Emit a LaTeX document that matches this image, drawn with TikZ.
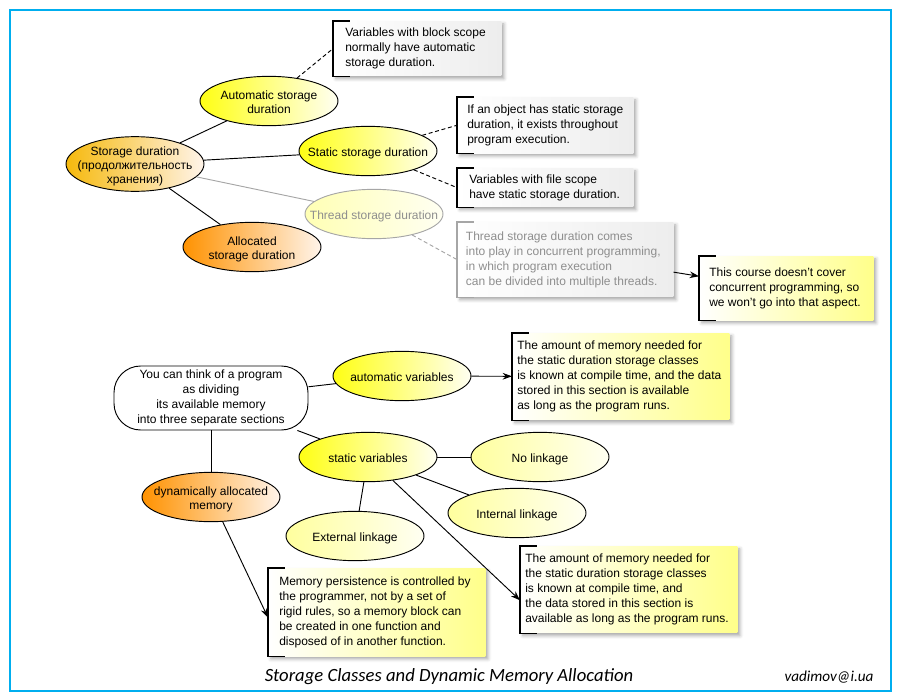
\documentclass[tikz,border=0pt]{standalone}
\usepackage{fontspec}
\setmainfont{Liberation Sans}
\newfontfamily\titlefont{Carlito}
\usetikzlibrary{shapes,arrows.meta,positioning,shadows.blur}

\definecolor{framecol}{HTML}{00AEEF}
\definecolor{ovalyellow}{HTML}{FFFF14}
\definecolor{ovalpale}{HTML}{FFFF9E}
\definecolor{ovalthread}{HTML}{FFFFB4}
\definecolor{ovalgold}{HTML}{F6B90C}
\definecolor{ovalorange}{HTML}{FF9200}
\definecolor{ovalend}{HTML}{FFFFF2}
\definecolor{orangeend}{HTML}{FFF4EA}
\definecolor{noteyellow}{HTML}{FFFF8A}
\definecolor{notegrey}{HTML}{EDEDED}
\definecolor{fadegrey}{HTML}{8E8E8E}
\definecolor{fadeline}{HTML}{A6A6A6}

\tikzset{
	oval/.style={ellipse, draw, line width=0.7pt, minimum width=103.5pt, minimum height=37pt, inner sep=0pt, font=\fontsize{9}{10.5}\selectfont, left color=ovalyellow, right color=ovalend},
	paleoval/.style={oval, left color=ovalpale, right color=ovalend},
	goldoval/.style={oval, left color=ovalgold, right color=orangeend},
	orangeoval/.style={oval, left color=ovalorange, right color=orangeend},
	note/.style={rectangle, anchor=north west, inner ysep=2pt, font=\fontsize{9}{11.25}\selectfont, blur shadow={shadow xshift=2pt, shadow yshift=-2pt, shadow blur radius=2.5pt, shadow opacity=35}},
	greynote/.style={note, left color=white, right color=notegrey},
	yellownote/.style={note, left color=white, right color=noteyellow},
	link/.style={line width=0.7pt},
	dashlink/.style={line width=0.7pt, dash pattern=on 3pt off 2pt},
	>={Stealth[length=7pt,width=5pt]}
}

% text inside an oval, kept from widening it
\newcommand\ovaltext[1]{\smash{\raisebox{-4.2pt}{\makebox[0pt]{\begin{tabular}{@{}c@{}}#1\end{tabular}}}}}
% lines of a note in a box of given width
\newcommand\notetext[2]{\makebox[#1][l]{\begin{tabular}{@{}l@{}}#2\end{tabular}}}
% bracket on the left side of a note
\newcommand\notebrack[2][black]{\draw[#1, line width=0.8pt] ([xshift=12.5pt]#2.north west) -- (#2.north west) -- (#2.south west) -- ([xshift=12.5pt]#2.south west);}

\begin{document}
\begin{tikzpicture}[x=0.75pt,y=-0.75pt]
	% Frame
	\useasboundingbox (0,0) rectangle (900,700);
	\draw[framecol, line width=1.1pt] (10,10) rectangle (891,691);

	% Storage durations
	\node[goldoval, minimum height=41pt] (storage) at (135,164) {\ovaltext{Storage duration\\(продолжительность\\хранения)}};
	\node[oval] (autodur) at (269,101) {\ovaltext{Automatic storage\\duration}};
	\node[oval] (staticdur) at (368,151) {\ovaltext{Static storage duration}};
	\node[paleoval, draw=fadeline, left color=ovalthread, text=fadegrey] (threaddur) at (374,214) {\ovaltext{Thread storage duration}};
	\node[orangeoval] (allocdur) at (252,247) {\ovaltext{Allocated\\storage duration}};

	% Notes on durations
	\node[greynote, inner xsep=9pt, minimum height=41pt] (blocknote) at (333,21) {\notetext{108pt}{Variables with block scope\\normally have automatic\\storage duration.}};
	\node[greynote, inner xsep=7.5pt, minimum height=42pt] (objnote) at (457,97) {\notetext{117pt}{If an object has static storage\\duration, it exists throughout\\program execution.}};
	\node[greynote, inner xsep=9pt, minimum height=29pt] (filenote) at (457,168) {\notetext{114pt}{Variables with file scope\\have static storage duration.}};
	\node[greynote, inner xsep=6.5pt, minimum height=56pt, text=fadegrey] (threadnote) at (457,222) {\notetext{149pt}{Thread storage duration comes\\into play in concurrent programming,\\in which program execution\\can be divided into multiple threads.}};
	\node[yellownote, inner xsep=7.5pt, minimum height=48pt] (coursenote) at (699,256) {\notetext{115.5pt}{This course doesn’t cover\\concurrent programming, so\\we won’t go into that aspect.}};
	\notebrack{blocknote}
	\notebrack{objnote}
	\notebrack{filenote}
	\notebrack[fadeline]{threadnote}
	\notebrack{coursenote}

	% Links on durations
	\draw[link] (storage) -- (autodur);
	\draw[link] (storage) -- (staticdur);
	\draw[link, fadeline] (storage) -- (threaddur);
	\draw[link] (storage) -- (allocdur);
	\draw[dashlink] (autodur) -- (blocknote.west);
	\draw[dashlink] (staticdur) -- (objnote.west);
	\draw[dashlink] (staticdur) -- (filenote.west);
	\draw[dashlink, fadeline] (threaddur) -- (threadnote.west);
	\draw[link, ->] ([yshift=-9.4pt]threadnote.east) -- ([yshift=9pt]coursenote.west);

	% Memory sections
	\node[draw, line width=0.7pt, fill=white, rounded corners=20pt, minimum width=145.5pt, minimum height=48pt, inner sep=0pt, align=center, font=\fontsize{9}{11.25}\selectfont] (program) at (211,398) {You can think of a program\\as dividing\\its available memory\\into three separate sections};
	\node[oval] (autovar) at (402,376) {\ovaltext{automatic variables}};
	\node[oval] (staticvar) at (368,457) {\ovaltext{static variables}};
	\node[orangeoval] (dynvar) at (211,497) {\ovaltext{dynamically allocated\\memory}};
	\node[paleoval] (nolink) at (540,457) {\ovaltext{No linkage}};
	\node[paleoval] (intlink) at (517,513) {\ovaltext{Internal linkage}};
	\node[paleoval] (extlink) at (355,536) {\ovaltext{External linkage}};

	% Notes on sections
	\node[yellownote, inner xsep=3.75pt, minimum height=65pt] (autonote) at (512,333) {\notetext{155.25pt}{The amount of memory needed for\\the static duration storage classes\\is known at compile time, and the data\\stored in this section is available\\as long as the program runs.}};
	\node[yellownote, inner xsep=8.25pt, minimum height=66pt] (dynnote) at (268,568) {\notetext{146.25pt}{Memory persistence is controlled by\\the programmer, not by a set of\\rigid rules, so a memory block can\\be created in one function and\\disposed of in another function.}};
	\node[yellownote, inner xsep=3.75pt, minimum height=65pt] (staticnote) at (520,546) {\notetext{155.25pt}{The amount of memory needed for\\the static duration storage classes\\is known at compile time, and\\the data stored in this section is\\available as long as the program runs.}};
	\notebrack{autonote}
	\notebrack{dynnote}
	\notebrack{staticnote}

	% Links on sections
	\draw[link] (program) -- (autovar);
	\draw[link] (program) -- (staticvar);
	\draw[link] (program) -- (dynvar);
	\draw[link] (staticvar) -- (nolink);
	\draw[link] (staticvar) -- (intlink);
	\draw[link] (staticvar) -- (extlink);
	\draw[link, ->] (autovar) -- (autonote);
	\draw[link, ->] (staticvar) -- ([yshift=-8pt]staticnote.west);
	\draw[link, ->] (dynvar) -- ([yshift=-4pt]dynnote.west);

	% Title
	\node[font=\titlefont\itshape\fontsize{14}{16}\selectfont] (title) at (449,677) {Storage Classes and Dynamic Memory Allocation};
	\node[font=\titlefont\itshape\fontsize{11.4}{14}\selectfont] (mail) at (829,677) {vadimov@i.ua};
\end{tikzpicture}
\end{document}
